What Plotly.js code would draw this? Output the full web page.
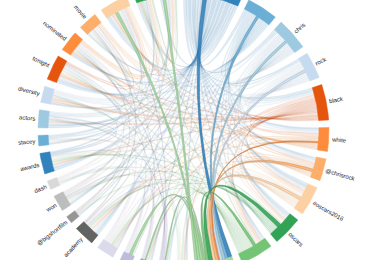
<!DOCTYPE html>
<html><head><meta charset="utf-8">
<script src="https://cdn.plot.ly/plotly-3.0.1.min.js"></script>
<style>html,body{margin:0;padding:0;background:#fff;overflow:hidden}#chart{width:380px;height:260px}</style>
</head><body><div id="chart"></div>
<script>
// ---- data ----
const groupNames = ["#oscarssowhite","good","chris","rock","black","white","@chrisrock","#oscars2016","oscars","fans",
  "host","leo","best","win","night","tweet","academy","@bigshortfilm","won","dash",
  "awards","stacey","actors","diversity","tonight","nominated","movie","oscar","leonardo","dicaprio"];
const groupColors = ["#3182bd","#6baed6","#9ecae1","#c6dbef","#e6550d","#fd8d3c","#fdae6b","#fdd0a2","#31a354","#74c476",
  "#a1d99b","#c7e9c0","#756bb1","#9e9ac8","#bcbddc","#dadaeb","#636363","#969696","#bdbdbd","#d9d9d9",
  "#3182bd","#6baed6","#9ecae1","#c6dbef","#e6550d","#fd8d3c","#fdae6b","#fdd0a2","#31a354","#74c476"];
// co-occurrence counts, upper triangle: row i lists columns i+1 .. 29
const matrixUpper = [
  "22121122131010121102121211222",
  "1111111120101010101010110100",
  "211111121010110010101101000",
  "11111020100010101010100100",
  "3111101010110001012110110",
  "110110000010000001110100",
  "11120000100001000100100",
  "2121001010100100101000",
  "130100110101000010010",
  "21010111011011101010",
  "0112000000000000202",
  "000100001000100000",
  "00010000010010100",
  "0000100000101000",
  "100010000010010",
  "10001000100100",
  "0100000001000",
  "001000010001",
  "00100100101",
  "0010011000",
  "011000010",
  "00100101",
  "0011010",
  "011101",
  "01100",
  "0111",
  "111",
  "11",
  "1"
];
const hubGroup = 10; // the group whose chords are highlighted

// ---- geometry / style ----
const W = 380, H = 260, CX = 183.5, CY = 130, R_IN = 135.5, R_OUT = 145.5;
const PAD_DEG = 3.0, LABEL_PAD = 3, FONT_SIZE = 6;
const FONT_FAMILY = '"Liberation Sans", Arial, sans-serif';

const N = groupNames.length;
const M = Array.from({length: N}, () => new Array(N).fill(0));
matrixUpper.forEach((s, i) => s.split('').forEach((c, t) => {
  const j = i + 1 + t, v = +c; M[i][j] = v; M[j][i] = v;
}));
const rowSums = M.map(r => r.reduce((a, b) => a + b, 0));
const total = rowSums.reduce((a, b) => a + b, 0);
const pad = PAD_DEG * Math.PI / 180;
const k = (2 * Math.PI - pad * N) / total;
const groups = [], sub = [];
let ang = 0;
for (let i = 0; i < N; i++) {
  const a0 = ang; sub[i] = [];
  for (let j = 0; j < N; j++) { sub[i][j] = {a0: ang, a1: ang + M[i][j] * k}; ang += M[i][j] * k; }
  groups.push({a0, a1: ang}); ang += pad;
}

function pt(a, r) { return [r * Math.sin(a), -r * Math.cos(a)]; }
function arcPts(a0, a1, r, xs, ys) {
  const n = Math.max(2, Math.ceil(Math.abs(a1 - a0) / 0.01));
  for (let s = 0; s <= n; s++) { const p = pt(a0 + (a1 - a0) * s / n, r); xs.push(p[0]); ys.push(p[1]); }
}
function quadPts(p0, p2, xs, ys) {
  const n = 40;
  for (let s = 1; s < n; s++) { const t = s / n, u = 1 - t;
    xs.push(u * u * p0[0] + t * t * p2[0]); ys.push(u * u * p0[1] + t * t * p2[1]); }
}
function hexRgb(h) { return [1, 3, 5].map(o => parseInt(h.substr(o, 2), 16)); }
function rgba(h, a, f) { const c = hexRgb(h).map(v => Math.round(v * (f || 1))); return `rgba(${c[0]},${c[1]},${c[2]},${a})`; }

const faint = [], strong = [];
for (let i = 0; i < N; i++) for (let j = i + 1; j < N; j++) {
  if (!M[i][j]) continue;
  const s = sub[i][j], t = sub[j][i];
  const xs = [], ys = [];
  arcPts(s.a0, s.a1, R_IN, xs, ys);
  quadPts(pt(s.a1, R_IN), pt(t.a0, R_IN), xs, ys);
  arcPts(t.a0, t.a1, R_IN, xs, ys);
  quadPts(pt(t.a1, R_IN), pt(s.a0, R_IN), xs, ys);
  xs.push(xs[0]); ys.push(ys[0]);
  const col = groupColors[i];
  const hl = (i === hubGroup || j === hubGroup);
  const op = hl ? 0.9 : 0.15;
  const tr = {type: 'scatter', mode: 'lines', x: xs, y: ys, fill: 'toself',
    fillcolor: rgba(col, op), line: {color: rgba(col, op, 0.7), width: 0.4},
    hoverinfo: 'skip', showlegend: false};
  (hl ? strong : faint).push(tr);
}
const arcs = groups.map((g, i) => {
  const xs = [], ys = [];
  arcPts(g.a0, g.a1, R_OUT, xs, ys);
  arcPts(g.a1, g.a0, R_IN, xs, ys);
  xs.push(xs[0]); ys.push(ys[0]);
  return {type: 'scatter', mode: 'lines', x: xs, y: ys, fill: 'toself',
    fillcolor: groupColors[i], line: {color: groupColors[i], width: 0.5},
    hoverinfo: 'skip', showlegend: false};
});

// labels
const ctx = document.createElement('canvas').getContext('2d');
ctx.font = FONT_SIZE + 'px ' + FONT_FAMILY;
const annotations = groups.map((g, i) => {
  const mid = (g.a0 + g.a1) / 2;
  const w = ctx.measureText(groupNames[i]).width;
  const p = pt(mid, R_OUT + LABEL_PAD + w / 2);
  const deg = mid * 180 / Math.PI;
  return {x: p[0], y: p[1], xref: 'x', yref: 'y', text: groupNames[i], showarrow: false,
    xanchor: 'center', yanchor: 'middle', textangle: deg < 180 ? deg - 90 : deg - 270,
    font: {family: FONT_FAMILY, size: FONT_SIZE, color: '#222'}, borderpad: 0};
});

Plotly.newPlot('chart', faint.concat(strong, arcs), {
  width: W, height: H, margin: {l: 0, r: 0, t: 0, b: 0},
  paper_bgcolor: '#fff', plot_bgcolor: '#fff', showlegend: false,
  xaxis: {range: [-CX, W - CX], visible: false, fixedrange: true},
  yaxis: {range: [H - CY, -CY], visible: false, fixedrange: true},
  annotations
}, {staticPlot: true, displayModeBar: false});
</script></body></html>
